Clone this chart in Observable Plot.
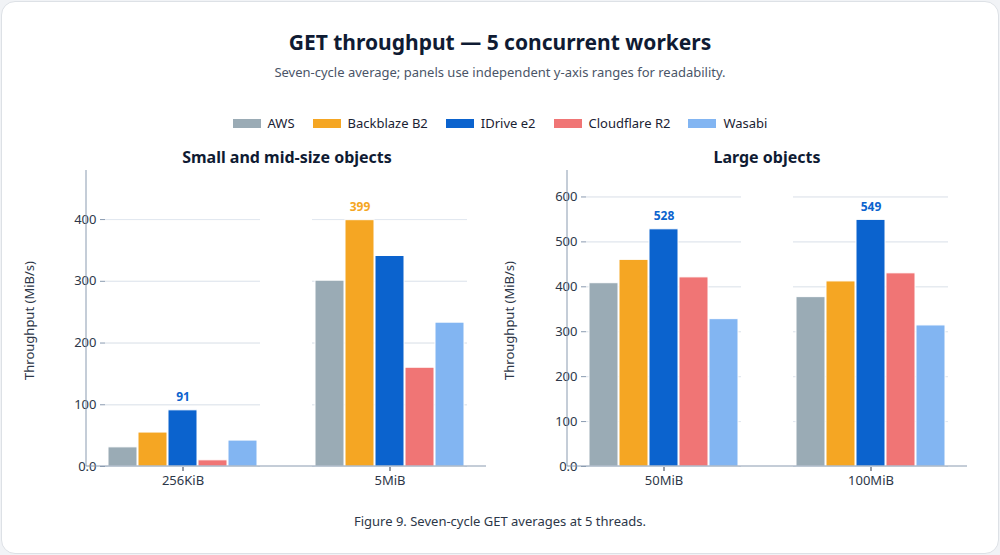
<!DOCTYPE html>
<html><head><meta charset="utf-8">
<script src="https://cdn.jsdelivr.net/npm/d3@7"></script>
<script src="https://cdn.jsdelivr.net/npm/@observablehq/plot@0.6"></script>
<style>
body{margin:0;background:#f1f3f6;font-family:"Noto Sans",sans-serif;}
#card{position:absolute;left:1px;top:1px;width:996px;height:551px;background:#fff;border:1px solid #dde1e6;border-radius:14px;overflow:hidden;}
.t{position:absolute;width:100%;text-align:center;}
#title{top:26px;font-size:21px;font-weight:700;color:#0f1b33;}
#sub{top:61px;font-size:13px;color:#4a5568;}
#legend{top:112px;font-size:13px;color:#1a2233;display:flex;justify-content:center;gap:18px;}
#legend span{display:inline-flex;align-items:center;gap:7px;}
#legend i{display:inline-block;width:28px;height:9px;}
.pt{position:absolute;font-size:16px;font-weight:700;color:#0f1b33;text-align:center;top:144px;}
#cap{top:510px;font-size:13px;color:#2d3748;}
.panel{position:absolute;top:140px;}
</style></head><body>
<div id="card">
<div class="t" id="title">GET throughput — 5 concurrent workers</div>
<div class="t" id="sub">Seven-cycle average; panels use independent y-axis ranges for readability.</div>
<div class="t" id="legend"></div>
<div class="pt" style="left:84px;width:402px">Small and mid-size objects</div>
<div class="pt" style="left:565px;width:400px">Large objects</div>
<div class="panel" id="p1" style="left:0px"></div>
<div class="panel" id="p2" style="left:480px"></div>
<div class="t" id="cap">Figure 9. Seven-cycle GET averages at 5 threads.</div>
</div>
<script>
const providers = ["AWS","Backblaze B2","IDrive e2","Cloudflare R2","Wasabi"];
const colors = ["#9aabb5","#f5a623","#0b63ce","#f07575","#82b5f2"];
const sizesSmall = ["256KiB","5MiB"];
const valuesSmall = [[31,55,91,10,42],[301,399,341,160,233]];
const sizesLarge = ["50MiB","100MiB"];
const valuesLarge = [[408,460,528,421,328],[377,412,549,430,314]];

const lg = document.getElementById("legend");
providers.forEach((p,i)=>{lg.innerHTML += `<span><i style="background:${colors[i]}"></i>${p}</span>`;});

function panel(el, sizes, values, ymax, ticks, ml){
  const data = [];
  sizes.forEach((s,g)=>providers.forEach((p,i)=>data.push({size:s, provider:p, value:values[g][i]})));
  const maxes = sizes.map((s,g)=>{const v=d3.max(values[g]);const i=values[g].indexOf(v);return {size:s,provider:providers[i],value:v,color:colors[i]};});
  const W=500,H=360,mt=32,mb=36,mr=500-ml-400;
  const chart = Plot.plot({
    width:W,height:H,marginTop:mt,marginBottom:mb,marginLeft:ml,marginRight:mr,
    style:{fontFamily:"Noto Sans",fontSize:"13px",color:"#2d3748"},
    fx:{domain:sizes,paddingInner:0.25,paddingOuter:0.09,label:null,axis:"bottom",tickSize:5},
    x:{domain:providers,axis:null,padding:0.02},
    y:{domain:[0,ymax],ticks:ticks,grid:true,label:"Throughput (MiB/s)",labelAnchor:"center",labelArrow:"none",tickFormat:d=>d===0?"0.0":d3.format("d")(d),tickSize:5},
    color:{domain:providers,range:colors},
    marks:[
      Plot.gridY(ticks,{stroke:"#e2e8f0",strokeOpacity:1}),
      Plot.axisY(ticks,{tickFormat:d=>d===0?"0.0":d3.format("d")(d),label:"Throughput (MiB/s)",labelAnchor:"center",labelArrow:"none",fontSize:13,tickSize:5,stroke:"#8a9bb0",fill:"#2d3748"}),
      Plot.barY(data,{fx:"size",x:"provider",y:"value",fill:"provider",stroke:"white",strokeWidth:1}),
      Plot.text(maxes,{fx:"size",x:"provider",y:"value",text:d=>String(d.value),fill:d=>d.color,dy:-13,fontWeight:700,fontSize:12})
    ]
  });
  const svg = d3.select(chart);
  svg.append("line").attr("x1",ml).attr("x2",ml).attr("y1",mt-4).attr("y2",H-mb).attr("stroke","#8a9bb0");
  svg.append("line").attr("x1",ml).attr("x2",W-mr).attr("y1",H-mb).attr("y2",H-mb).attr("stroke","#8a9bb0");
  svg.selectAll("[aria-label='fx-axis tick'] path, [aria-label='fx-axis tick']").attr("stroke","#2d3748");
  el.appendChild(chart);
}
panel(document.getElementById("p1"), sizesSmall, valuesSmall, 473, [0,100,200,300,400], 84);
panel(document.getElementById("p2"), sizesLarge, valuesLarge, 650, [0,100,200,300,400,500,600], 85);
</script>
</body></html>
